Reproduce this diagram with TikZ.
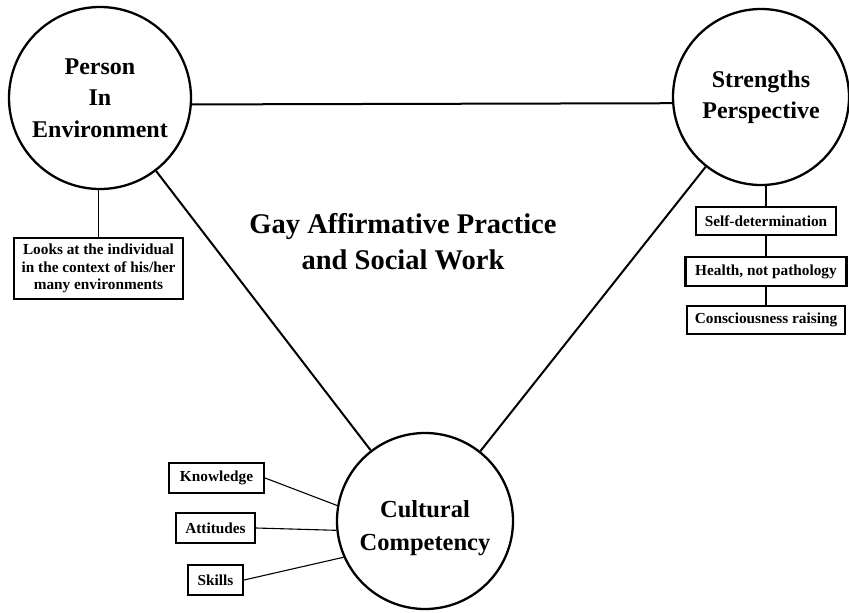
\documentclass[tikz,border=0pt]{standalone}
\usepackage{fontspec}
\setmainfont{Liberation Serif}
\begin{document}
\begin{tikzpicture}[x=1pt,y=-1pt,
 big/.style={circle,draw,line width=2.3pt,inner sep=0pt,align=center,font=\fontsize{24}{31.5}\selectfont\bfseries},
 bigtext/.style={align=center,inner sep=0pt,font=\fontsize{24.5}{33}\selectfont\bfseries},
 tag/.style={draw,line width=2.1pt,inner sep=0pt,align=center,font=\fontsize{15.3}{17.5}\selectfont\bfseries},
 mainline/.style={line width=2pt},
 thinline/.style={line width=1.1pt}]
\useasboundingbox (0,0) rectangle (849,613);
\node[big,minimum size=182pt] (P) at (100,98) {Person\\In\\Environment};
\node[big,minimum size=176pt] (S) at (761,97) {Strengths\\Perspective};
\node[big,minimum size=176pt] (C) at (425,521) {};
\node[bigtext] (CT) at (425,528) {Cultural\\Competency};
\node[align=center,font=\fontsize{28.5}{36}\selectfont\bfseries] (T) at (403,242) {Gay Affirmative Practice\\and Social Work};
\draw[mainline] (P.-4) -- (S.184);
\draw[mainline] (P) -- (C);
\draw[mainline] (S) -- (C);
% Person box
\node[tag,minimum width=169pt,minimum height=61pt] (PB) at (98.5,268.5) {Looks at the individual\\in the context of his/her\\many environments};
\draw[thinline] (PB.north) -- (PB.north |- P.south);
% Strengths boxes
\node[tag,minimum width=140pt,minimum height=28pt] (SD) at (766,221) {Self-determination};
\node[tag,minimum width=161pt,minimum height=29pt] (HN) at (766,271.5) {Health, not pathology};
\node[tag,minimum width=158pt,minimum height=28pt] (CR) at (766,320) {Consciousness raising};
\draw[thinline] (SD.north) -- ++(0,-22);
\draw[thinline] (SD) -- (HN);
\draw[thinline] (HN) -- (CR);
% Cultural boxes
\node[tag,minimum width=95pt,minimum height=30pt] (KN) at (216.5,478) {Knowledge};
\node[tag,minimum width=79pt,minimum height=30pt] (AT) at (215.5,528) {Attitudes};
\node[tag,minimum width=55pt,minimum height=30pt] (SK) at (215.5,580) {Skills};
\draw[thinline] (KN.east) -- (C.170);
\draw[thinline] (AT.east) -- (C.186);
\draw[thinline] (SK.east) -- (C.204);
\end{tikzpicture}
\end{document}
